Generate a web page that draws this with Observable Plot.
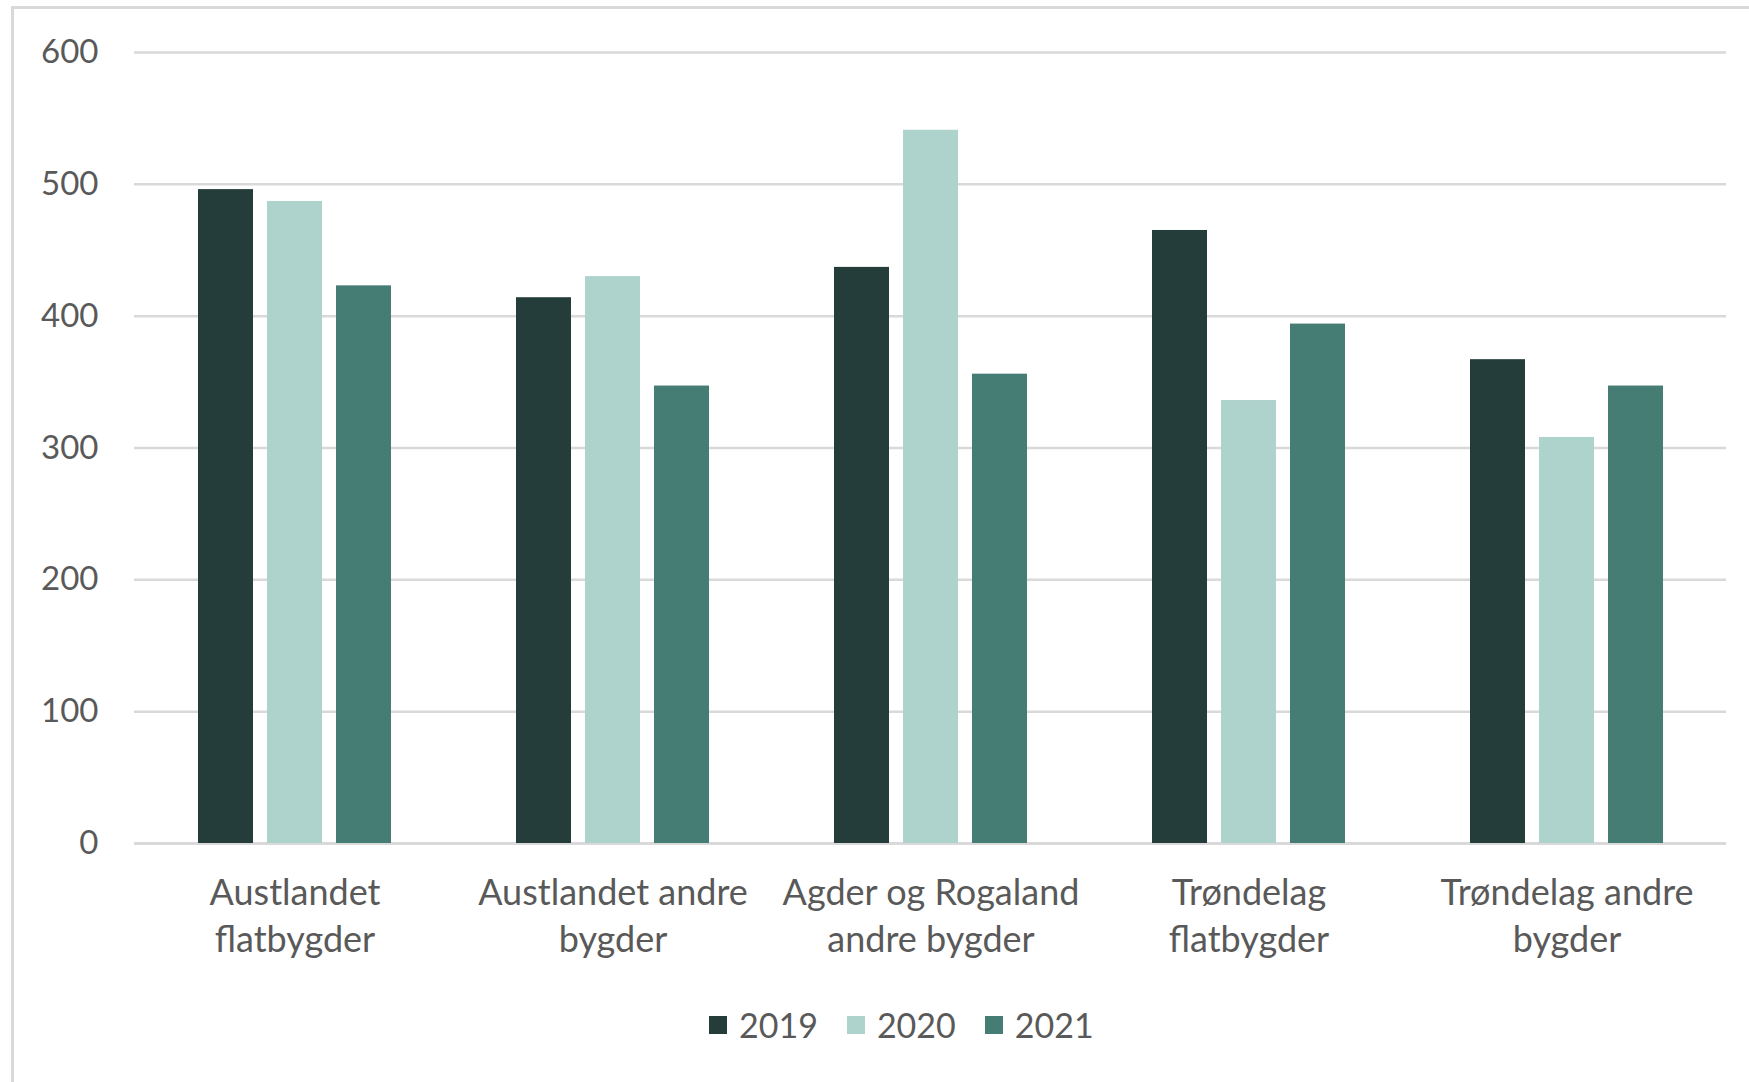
<!DOCTYPE html>
<html>
<head>
<meta charset="utf-8">
<script src="https://cdn.jsdelivr.net/npm/d3@7"></script>
<script src="https://cdn.jsdelivr.net/npm/@observablehq/plot@0.6"></script>
<style>
  html, body { margin: 0; padding: 0; background: #fff; }
  body { width: 1749px; height: 1082px; position: relative; overflow: hidden; font-family: Lato, "Open Sans", sans-serif; }
  #frame { position: absolute; left: 11px; top: 6px; width: 1800px; height: 1200px; border-left: 3px solid #d9d9d9; border-top: 3px solid #d9d9d9; }
  #bg, #chart { position: absolute; left: 0; top: 0; }
  #legend { position: absolute; left: 709px; top: 1004px; display: flex; align-items: center; font-size: 34px; color: #595959; }
  .item { display: flex; align-items: center; margin-right: 29px; }
  .sw { width: 18px; height: 18px; margin-right: 12px; }
</style>
</head>
<body>
<div id="frame"></div>
<div id="bg"></div>
<div id="chart"></div>
<div id="legend"></div>
<script>
const categories = [
  "Austlandet flatbygder",
  "Austlandet andre bygder",
  "Agder og Rogaland andre bygder",
  "Trøndelag flatbygder",
  "Trøndelag andre bygder"
];
const categoryLabels = [
  "Austlandet\nflatbygder",
  "Austlandet andre\nbygder",
  "Agder og Rogaland\nandre bygder",
  "Trøndelag\nflatbygder",
  "Trøndelag andre\nbygder"
];
const years = ["2019", "2020", "2021"];
const values2019 = [496, 414, 437, 465, 367];
const values2020 = [487, 430, 541, 336, 308];
const values2021 = [423, 347, 356, 394, 347];
const colors = ["#243d3a", "#aed3cc", "#457c73"];
const yTicks = [0, 100, 200, 300, 400, 500, 600];

const series = [values2019, values2020, values2021];
const data = [];
categories.forEach((c, i) => {
  years.forEach((y, j) => data.push({category: c, year: y, value: series[j][i]}));
});
const labelOf = new Map(categories.map((c, i) => [c, categoryLabels[i]]));

const common = {
  width: 1749,
  height: 980,
  marginLeft: 134,
  marginRight: 23,
  marginTop: 52,
  marginBottom: 137,
  style: {fontFamily: "Lato, 'Open Sans', sans-serif", color: "#595959", background: "transparent"}
};

const bg = Plot.plot({
  ...common,
  y: {domain: [0, 600], label: null},
  marks: [
    Plot.gridY(yTicks, {stroke: "#d9d9d9", strokeOpacity: 1, strokeWidth: 2.5}),
    Plot.axisY(yTicks, {tickSize: 0, tickPadding: 36, fontSize: 33, fill: "#595959", label: null}),
    Plot.ruleY([0], {stroke: "#d9d9d9", strokeWidth: 3})
  ]
});
document.getElementById("bg").appendChild(bg);

const chart = Plot.plot({
  ...common,
  fx: {domain: categories, paddingInner: 0.388, paddingOuter: 0.194, label: null},
  x: {domain: years, paddingInner: 0.206, paddingOuter: 0, axis: null},
  y: {domain: [0, 600], label: null, axis: null},
  color: {domain: years, range: colors},
  marks: [
    Plot.barY(data, {fx: "category", x: "year", y: "value", fill: "year"}),
    Plot.axisFx({anchor: "bottom", tickSize: 0, tickPadding: 28, fontSize: 36, lineHeight: 1.3, fill: "#595959", label: null, tickFormat: d => labelOf.get(d)})
  ]
});
document.getElementById("chart").appendChild(chart);

const legend = document.getElementById("legend");
years.forEach((y, i) => {
  const item = document.createElement("div");
  item.className = "item";
  const sw = document.createElement("div");
  sw.className = "sw";
  sw.style.background = colors[i];
  const t = document.createElement("span");
  t.textContent = y;
  item.appendChild(sw);
  item.appendChild(t);
  legend.appendChild(item);
});
</script>
</body>
</html>
